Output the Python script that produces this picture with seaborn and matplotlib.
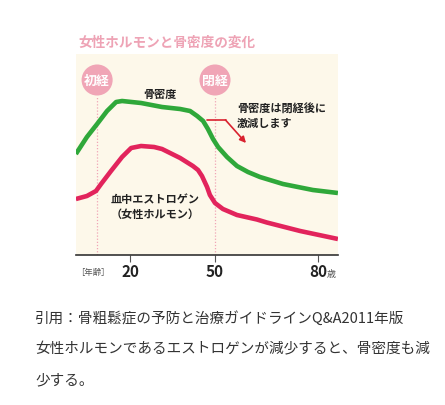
import numpy as np
import pandas as pd
import matplotlib
matplotlib.use("Agg")
import matplotlib.pyplot as plt
import seaborn as sns

# ---------------- data (schematic) ----------------
bone_age = [0.9, 4.8, 8.4, 11.9, 15.1, 17.2, 23.9, 31.3, 37.7, 41.2, 43.7, 45.8,
            47.5, 49.3, 50.9, 53.5, 56.4, 59.6, 63.1, 69.8, 78.5, 85.8]
bone_val = [101, 118, 131, 144, 153, 154, 152, 148, 146, 144, 139, 134,
            126, 116, 108, 98, 89, 83, 78, 71, 65, 62]

estr_age = [0.9, 4.8, 8.0, 9.8, 13.3, 17.2, 20.4, 23.9, 28.5, 31.3, 37.7, 42.2,
            44.0, 45.4, 47.2, 48.2, 50.0, 52.3, 56.4, 62.2, 65.1, 74.8, 85.8]
estr_val = [56, 59, 64, 71, 84, 98, 107, 109, 108, 106, 97, 89,
            85, 79, 68, 60, 52, 46, 40, 35.5, 32.5, 24, 16]

tick_ages = [20, 50, 80]
tick_labels = ["20", "50", "80"]
menarche_age = 8.4
menopause_age = 50

title = "女性ホルモンと骨密度の変化"
bone_label = "骨密度"
estr_label = "血中エストロゲン\n（女性ホルモン）"
note_label = "骨密度は閉経後に\n激減します"
caption_lines = ["引用：骨粗鬆症の予防と治療ガイドラインQ&A2011年版",
                 "女性ホルモンであるエストロゲンが減少すると、骨密度も減",
                 "少する。"]

GREEN = "#2fa83a"
RED = "#e2245c"
PINK = "#f0a5b6"
CREAM = "#fdf8ea"
DARK = "#222222"

sns.set_theme(style="white")
plt.rcParams['font.family'] = ['Noto Sans CJK JP', 'DejaVu Sans']

W, H = 445, 406
fig = plt.figure(figsize=(W / 100, H / 100), dpi=100)

def fx(px):
    return px / W

def fy(py):
    return 1 - py / H

# axes: left 76, right 338, top 55, bottom 256 (pixels)
ax = fig.add_axes([fx(76), fy(256), (338 - 76) / W, (256 - 55) / H])
ax.set_facecolor(CREAM)

df = pd.concat([
    pd.DataFrame({"age": bone_age, "value": bone_val, "series": "bone"}),
    pd.DataFrame({"age": estr_age, "value": estr_val, "series": "estrogen"}),
])
sns.lineplot(data=df, x="age", y="value", hue="series",
             palette={"bone": GREEN, "estrogen": RED}, legend=False,
             linewidth=3.3, ax=ax, solid_capstyle="butt",
             solid_joinstyle="round")

# piecewise-linear age scale (schematic axis)
knot_age = np.array([0.0, 20.0, 50.0, 80.0, 100.0])
knot_px = np.array([73.3, 130.0, 215.0, 318.0, 386.7])

def fwd(a):
    return np.interp(a, knot_age, knot_px)

def inv(p):
    return np.interp(p, knot_px, knot_age)

ax.set_xscale("function", functions=(fwd, inv))
ax.set_xlim(inv(76), inv(338))
ax.set_ylim(0, 201)

ax.set_xticks(tick_ages)
ax.set_xticklabels(tick_labels, fontsize=11, fontweight="bold", color=DARK)
ax.set_yticks([])
ax.set_xlabel("")
ax.set_ylabel("")
ax.tick_params(axis="x", direction="out", length=5, width=0.8, color="#555555",
               pad=1, bottom=True)
for s in ["top", "left", "right"]:
    ax.spines[s].set_visible(False)
ax.spines["bottom"].set_color("#333333")
ax.spines["bottom"].set_linewidth(1.2)
ax.grid(False)

# dotted guide lines and circles
for a, lab in [(menarche_age, "初経"), (menopause_age, "閉経")]:
    ax.plot([a, a], [0, 159], color=PINK, lw=0.9, ls=(0, (1, 1.5)), zorder=1)
    ax.scatter([a], [256 - 81], s=500, color=PINK, edgecolor="none",
               clip_on=False, zorder=3)
    ax.text(a, 256 - 81, lab, ha="center", va="center", color="white",
            fontsize=9.3, fontweight="bold", zorder=4)

# labels
fig.text(fx(78), fy(43), title, ha="left", va="center", fontsize=9.8,
         fontweight="bold", color="#eea3b5")
fig.text(fx(160), fy(94), bone_label, ha="center", va="center", fontsize=8,
         fontweight="bold", color=DARK)
fig.text(fx(155), fy(207), estr_label, ha="center", va="center", fontsize=8,
         fontweight="bold", color=DARK, linespacing=1.15)
fig.text(fx(237), fy(116), note_label, ha="left", va="center", fontsize=8,
         fontweight="bold", color=DARK, linespacing=1.15)
fig.text(fx(93), fy(273), "［年齢］", ha="center", va="center", fontsize=6,
         color="#555555")
fig.text(fx(331), fy(275), "歳", ha="center", va="center", fontsize=6.5,
         color="#555555")

# arrow
ax.annotate("", xy=(207, H - 121), xytext=(226, H - 121),
            xycoords="figure pixels", textcoords="figure pixels",
            arrowprops=dict(arrowstyle="-", color="#d9222f", lw=1.2,
                            shrinkA=0, shrinkB=0))
ax.annotate("", xy=(246, H - 144), xytext=(225.5, H - 121),
            xycoords="figure pixels", textcoords="figure pixels",
            arrowprops=dict(arrowstyle="-|>", color="#d9222f", lw=1.2,
                            mutation_scale=9, shrinkA=0, shrinkB=0))

# caption below
for i, line in enumerate(caption_lines):
    fig.text(fx(35), fy(318 + 31 * i), line, ha="left", va="center",
             fontsize=10.5, color="#333333")

fig.savefig("out.png", dpi=100)
